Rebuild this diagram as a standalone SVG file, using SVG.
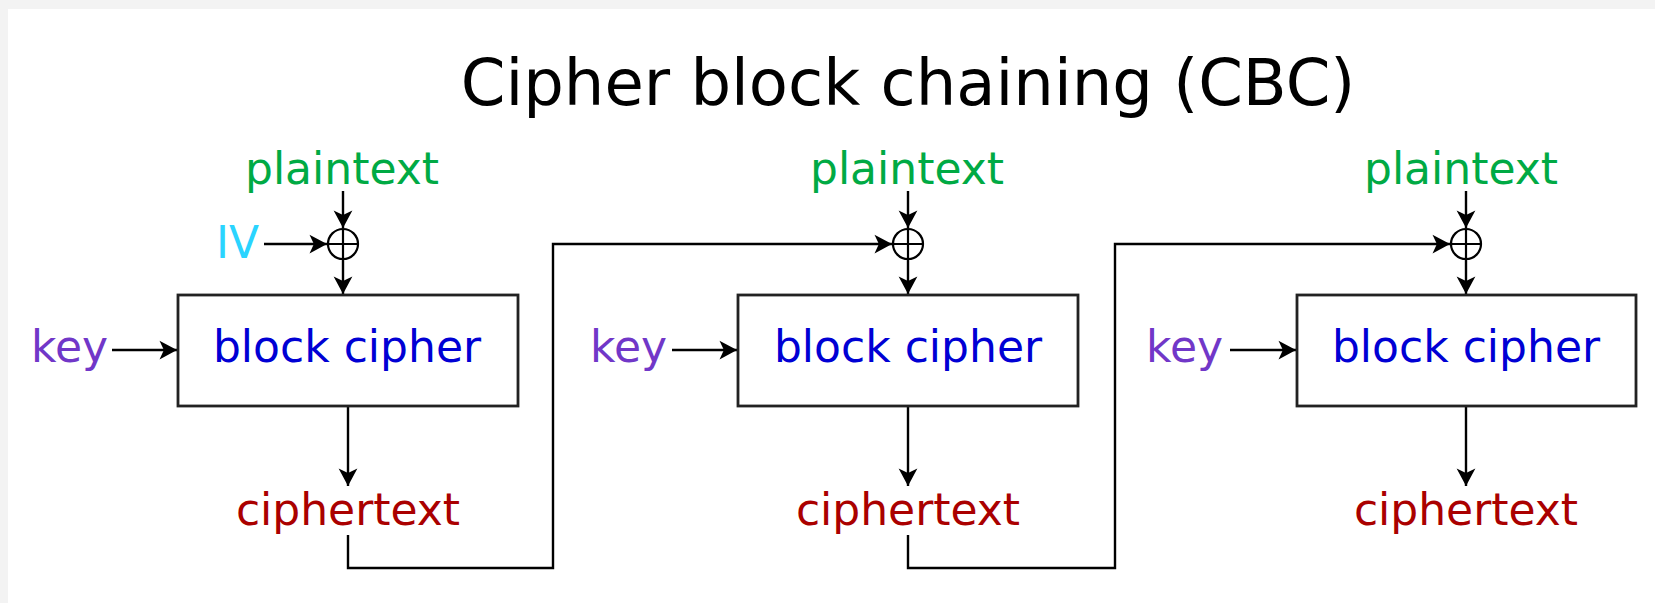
<svg xmlns="http://www.w3.org/2000/svg" width="1655" height="603" viewBox="0 0 1655 603">
<style>
text{font-family:"DejaVu Sans","Liberation Sans",sans-serif;font-size:44px}
.title{font-size:64px;fill:#000;text-anchor:middle}
.pt{fill:#00aa44;text-anchor:middle}
.bc{fill:#0000d4;text-anchor:middle}
.ct{fill:#aa0000;text-anchor:middle}
.key{fill:#7137c8}
.iv{fill:#2ad4ff}
.box{fill:#fff;stroke:#222;stroke-width:2.8}
.ln{fill:none;stroke:#000;stroke-width:2.4}
.xor{fill:none;stroke:#000;stroke-width:2.2}
</style>
<defs>
<marker id="ah" markerUnits="userSpaceOnUse" markerWidth="20" markerHeight="20" viewBox="-15 -8 16 16" refX="0" refY="0" orient="auto">
<path d="M0,0 L-14,-7.5 L-10.5,0 L-14,7.5 Z" fill="#000"/>
</marker>
</defs>
<rect width="1655" height="603" fill="#f3f3f3"/>
<rect x="8" y="9" width="1647" height="594" fill="#fff"/>
<text class="title" x="908" y="105">Cipher block chaining (CBC)</text>

<g id="connectors">
<line class="ln" x1="343" y1="191" x2="343" y2="228" marker-end="url(#ah)"/>
<line class="ln" x1="264" y1="244" x2="327" y2="244" marker-end="url(#ah)"/>
<line class="ln" x1="343" y1="259" x2="343" y2="294" marker-end="url(#ah)"/>
<line class="ln" x1="112" y1="350" x2="177" y2="350" marker-end="url(#ah)"/>
<line class="ln" x1="348" y1="406" x2="348" y2="486" marker-end="url(#ah)"/>
<polyline class="ln" points="348,535 348,568 553,568 553,244 892,244" marker-end="url(#ah)"/>

<line class="ln" x1="908" y1="191" x2="908" y2="228" marker-end="url(#ah)"/>
<line class="ln" x1="908" y1="259" x2="908" y2="294" marker-end="url(#ah)"/>
<line class="ln" x1="672" y1="350" x2="737" y2="350" marker-end="url(#ah)"/>
<line class="ln" x1="908" y1="406" x2="908" y2="486" marker-end="url(#ah)"/>
<polyline class="ln" points="908,535 908,568 1115,568 1115,244 1450,244" marker-end="url(#ah)"/>

<line class="ln" x1="1466" y1="191" x2="1466" y2="228" marker-end="url(#ah)"/>
<line class="ln" x1="1466" y1="259" x2="1466" y2="294" marker-end="url(#ah)"/>
<line class="ln" x1="1230" y1="350" x2="1296" y2="350" marker-end="url(#ah)"/>
<line class="ln" x1="1466" y1="406" x2="1466" y2="486" marker-end="url(#ah)"/>
</g>

<g id="xor1"><circle class="xor" cx="343" cy="244" r="15"/><path class="xor" d="M328,244 H358 M343,229 V259"/></g>
<g id="xor2"><circle class="xor" cx="908" cy="244" r="15"/><path class="xor" d="M893,244 H923 M908,229 V259"/></g>
<g id="xor3"><circle class="xor" cx="1466" cy="244" r="15"/><path class="xor" d="M1451,244 H1481 M1466,229 V259"/></g>

<g id="plaintext1"><text class="pt" x="342" y="184">plaintext</text></g>
<g id="plaintext2"><text class="pt" x="907" y="184">plaintext</text></g>
<g id="plaintext3"><text class="pt" x="1461" y="184">plaintext</text></g>
<g id="iv"><text class="iv" x="216" y="258">IV</text></g>

<g id="key1"><text class="key" x="31" y="362">key</text></g>
<g id="key2"><text class="key" x="590" y="362">key</text></g>
<g id="key3"><text class="key" x="1146" y="362">key</text></g>

<g id="cipher1"><rect class="box" x="178" y="295" width="340" height="111"/><text class="bc" x="347" y="362">block cipher</text></g>
<g id="cipher2"><rect class="box" x="738" y="295" width="340" height="111"/><text class="bc" x="908" y="362">block cipher</text></g>
<g id="cipher3"><rect class="box" x="1297" y="295" width="339" height="111"/><text class="bc" x="1466" y="362">block cipher</text></g>

<g id="ciphertext1"><text class="ct" x="348" y="525">ciphertext</text></g>
<g id="ciphertext2"><text class="ct" x="908" y="525">ciphertext</text></g>
<g id="ciphertext3"><text class="ct" x="1466" y="525">ciphertext</text></g>
</svg>
